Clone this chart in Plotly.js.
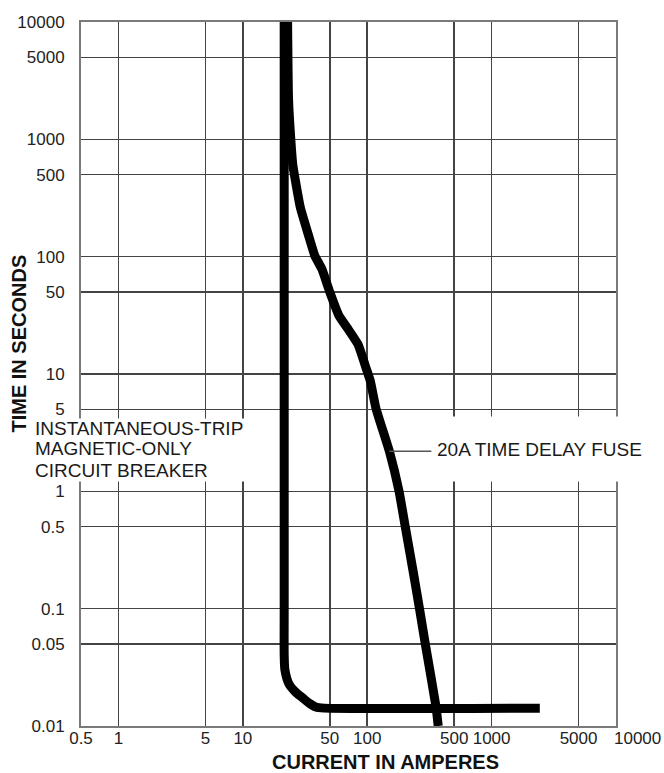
<!DOCTYPE html>
<html><head><meta charset="utf-8">
<script src="https://cdn.plot.ly/plotly-3.0.1.min.js"></script>
<style>html,body{margin:0;padding:0;background:#fff}</style>
</head><body><div id="chart" style="width:664px;height:773px"></div>
<script>
const xTickVals = [0.5, 1, 5, 10, 50, 100, 500, 1000, 5000, 10000];
const xTickText = ['0.5', '1', '5', '10', '50', '100', '500', '1000', '5000', ''];
const xLastTickLabel = '10000';
const yTickVals = [0.01, 0.05, 0.1, 0.5, 1, 5, 10, 50, 100, 500, 1000, 5000, 10000];
const yTickText = ['0.01', '0.05', '0.1', '0.5', '1', '5', '10', '50', '100', '500', '1000', '5000', '10000'];

// Instantaneous-trip magnetic-only circuit breaker
const breakerAmps = [21.5, 21.5, 21.5, 21.8, 23.5, 26.5, 30.2, 34, 38.6, 45, 2440];
const breakerSecs = [10000, 0.1, 0.04, 0.03, 0.0228, 0.0195, 0.0174, 0.0157, 0.0145, 0.0142, 0.0142];

// 20A time delay fuse
const fuseAmps = [22.9, 23.3, 24.3, 25.2, 29, 33.8, 37.9, 43.3, 50, 59.4, 69.7, 84.3, 98, 106, 117.5, 150.6, 180.3, 202.2, 235.5, 264, 293, 358, 372];
const fuseSecs = [10000, 2200, 1000, 610, 262, 151, 102, 78, 50, 31.3, 24.4, 17.9, 11.2, 8.7, 5.1, 2.2, 1, 0.5, 0.2, 0.098, 0.05, 0.0144, 0.01];

const breakerLabel = ['INSTANTANEOUS-TRIP', 'MAGNETIC-ONLY', 'CIRCUIT BREAKER'];
const fuseLabel = '20A TIME DELAY FUSE';
const xTitle = 'CURRENT IN AMPERES';
const yTitle = 'TIME IN SECONDS';

const breakerLeaderSecs = 3.6;
const fuseLeaderIdx = 15;

const FONT = 'Liberation Sans, Arial, Helvetica, sans-serif';

const traces = [
  {x: breakerAmps, y: breakerSecs, type: 'scatter', mode: 'lines', name: 'breaker',
   line: {color: '#000', width: 9, shape: 'spline', smoothing: 0.6}, hoverinfo: 'skip'},
  {x: fuseAmps, y: fuseSecs, type: 'scatter', mode: 'lines', name: 'fuse',
   line: {color: '#000', width: 9, shape: 'spline', smoothing: 0.4}, hoverinfo: 'skip'}
];

const labelLineY = [0.4226, 0.3949, 0.3636];
const labelLineH = [18, 22, 22];
const annotations = breakerLabel.map((t, i) => ({
  xref: 'paper', yref: 'paper', x: -0.0879, y: labelLineY[i], xanchor: 'left', yanchor: 'middle',
  text: t, showarrow: false, align: 'left', width: 216, height: labelLineH[i], borderpad: 0,
  bgcolor: '#fff', font: {family: FONT, size: 19, color: '#1a1a1a'}
}));
annotations.push({
  xref: 'paper', yref: 'paper', x: 0.6636, y: 0.3935, xanchor: 'left', yanchor: 'middle',
  text: fuseLabel, showarrow: false, height: 64, borderpad: 0, valign: 'middle',
  bgcolor: '#fff', font: {family: FONT, size: 19, color: '#1a1a1a'}
});
annotations.push({
  xref: 'x', yref: 'paper', x: Math.log10(xTickVals[xTickVals.length - 1]), xshift: 21,
  y: -0.0182, xanchor: 'center', yanchor: 'middle',
  text: xLastTickLabel, showarrow: false, font: {family: FONT, size: 17, color: '#222'}
});
annotations.push({
  xref: 'paper', yref: 'paper', x: 0.569, y: -0.0511, xanchor: 'center', yanchor: 'middle',
  text: '<b>' + xTitle + '</b>', showarrow: false, font: {family: FONT, size: 20, color: '#111'}
});
annotations.push({
  xref: 'paper', yref: 'paper', x: -0.1168, y: 0.5426, xanchor: 'center', yanchor: 'middle',
  text: '<b>' + yTitle + '</b>', textangle: -90, showarrow: false, font: {family: FONT, size: 20, color: '#111'}
});

const shapes = [
  {type: 'line', xref: 'x', yref: 'y', xsizemode: 'pixel', xanchor: breakerAmps[0],
   x0: -31, x1: -5, y0: breakerLeaderSecs, y1: breakerLeaderSecs,
   line: {color: '#555', width: 1.5}, layer: 'above'},
  {type: 'line', xref: 'x', yref: 'y', xsizemode: 'pixel', xanchor: fuseAmps[fuseLeaderIdx],
   x0: 0, x1: 42, y0: fuseSecs[fuseLeaderIdx], y1: fuseSecs[fuseLeaderIdx],
   line: {color: '#555', width: 1.5}, layer: 'above'}
];

const axisCommon = {
  type: 'log', showgrid: true, gridcolor: '#444', gridwidth: 1.5,
  showline: true, mirror: true, linecolor: '#7a7a7a', linewidth: 2,
  tickmode: 'array', ticks: 'outside', tickcolor: 'rgba(0,0,0,0)', tickangle: 0,
  tickfont: {family: FONT, size: 17, color: '#222'}, zeroline: false, fixedrange: true
};

const layout = {
  width: 664, height: 773, autosize: false,
  margin: {l: 81, r: 48, t: 22, b: 47, pad: 0},
  paper_bgcolor: '#fff', plot_bgcolor: '#fff', showlegend: false,
  xaxis: Object.assign({}, axisCommon, {range: [Math.log10(0.5), 4], tickvals: xTickVals, ticktext: xTickText, ticklen: 0, ticklabelstandoff: -4}),
  yaxis: Object.assign({}, axisCommon, {range: [-2, 4], tickvals: yTickVals, ticktext: yTickText, ticklen: 11}),
  annotations: annotations,
  shapes: shapes
};

Plotly.newPlot('chart', traces, layout, {displayModeBar: false, staticPlot: true});
</script>
</body></html>
